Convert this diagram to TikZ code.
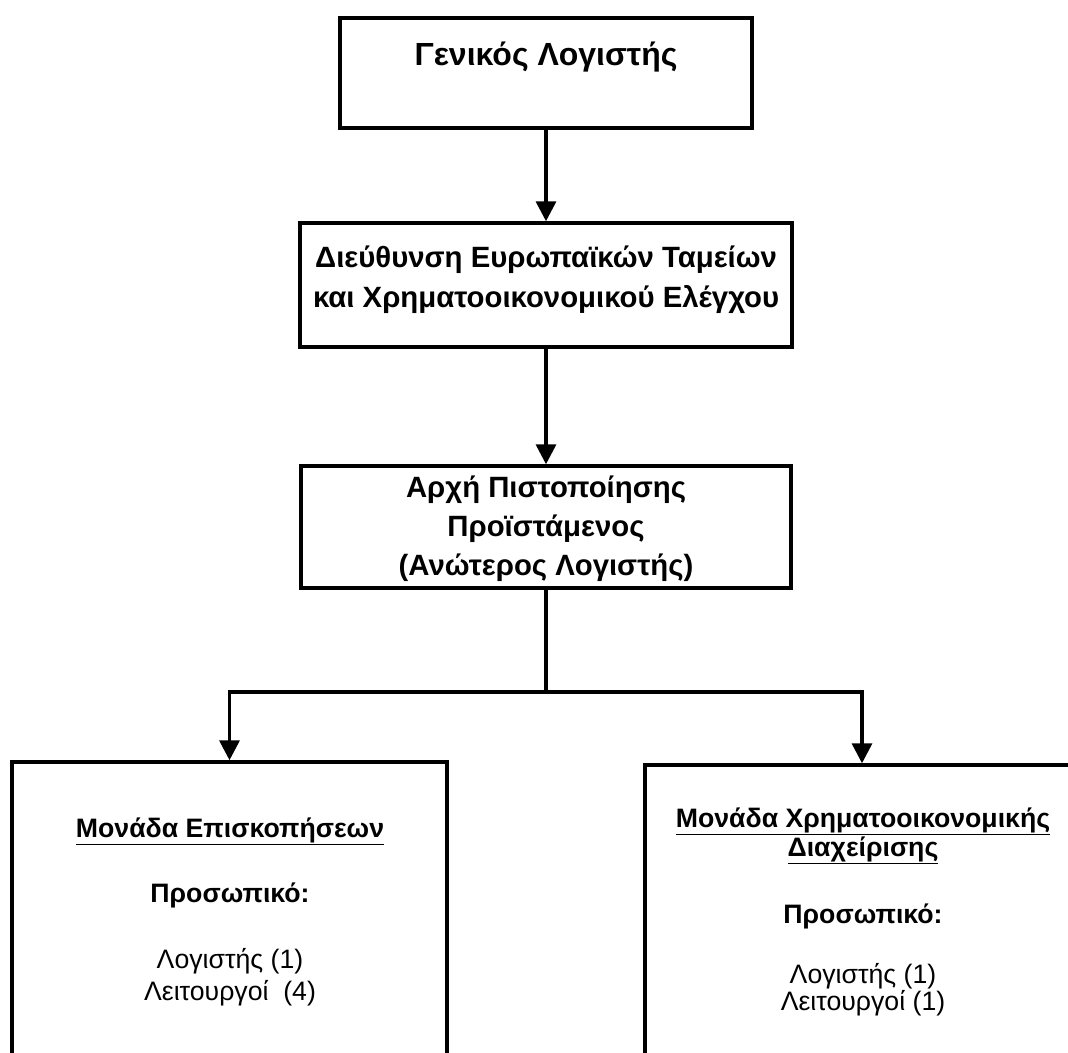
\documentclass[tikz,border=0pt]{standalone}
\usepackage{fontspec}
\setmainfont{Liberation Sans}
\usetikzlibrary{arrows.meta}

\begin{document}
\begin{tikzpicture}[x=0.75pt,y=-0.75pt,
  box/.style={draw=black, line width=2.6pt, inner sep=0pt, fill=none},
  link/.style={line width=2.6pt, draw=black},
  arrow/.style={link, -{Triangle[length=15pt,width=15pt]}},
  title/.style={anchor=base, inner sep=0pt, font=\fontsize{22}{26}\selectfont\bfseries},
  bigtitle/.style={title, font=\fontsize{24}{28}\selectfont\bfseries},
  body/.style={anchor=base, inner sep=0pt, font=\fontsize{20}{24}\selectfont},
  bodyb/.style={body, font=\fontsize{20}{24}\selectfont\bfseries}]
\useasboundingbox (0,0) rectangle (1068,1053);
\begin{scope}
\clip (0,0) rectangle (1068,1053);

% boxes
\node[box, minimum width=309pt, minimum height=82.5pt] (gl) at (546,73) {};
\node[box, minimum width=369pt, minimum height=93pt] (dir) at (546,285) {};
\node[box, minimum width=367.5pt, minimum height=91.5pt] (auth) at (546,527) {};
\node[box, minimum width=326.25pt, minimum height=240pt] (insp) at (229.5,922) {};
\node[box, minimum width=325.5pt, minimum height=240pt] (fin) at (862,925) {};

% texts
\node[bigtitle] (t1) at (546,65) {Γενικός Λογιστής};
\node[title] (t2a) at (546,267) {Διεύθυνση Ευρωπαϊκών Ταμείων};
\node[title] (t2b) at (546,307) {και Χρηματοοικονομικού Ελέγχου};
\node[title] (t3a) at (546,497) {Αρχή Πιστοποίησης};
\node[title] (t3b) at (546,536) {Προϊστάμενος};
\node[title] (t3c) at (546,575) {(Ανώτερος Λογιστής)};

\node[bodyb] (l1) at (230,837) {\underline{Μονάδα Επισκοπήσεων}};
\node[bodyb] (l2) at (230,902) {Προσωπικό:};
\node[body] (l3) at (230,968) {Λογιστής (1)};
\node[body] (l4) at (230,1000) {Λειτουργοί\ \ (4)};

\node[bodyb] (r1) at (863,827) {\underline{Μονάδα Χρηματοοικονομικής}};
\node[bodyb] (r2) at (863,856) {\underline{Διαχείρισης}};
\node[bodyb] (r3) at (863,923) {Προσωπικό:};
\node[body] (r4) at (863,983) {Λογιστής (1)};
\node[body] (r5) at (863,1010) {Λειτουργοί (1)};

% connectors
\draw[arrow] (gl.south) -- (dir.north);
\draw[arrow] (dir.south) -- (auth.north);
\coordinate (split) at (546,692);
\draw[link] (auth.south) -- (split);
\draw[arrow] (split) -| (insp.north);
\draw[arrow] (split) -| (fin.north);
\end{scope}
\end{tikzpicture}
\end{document}
